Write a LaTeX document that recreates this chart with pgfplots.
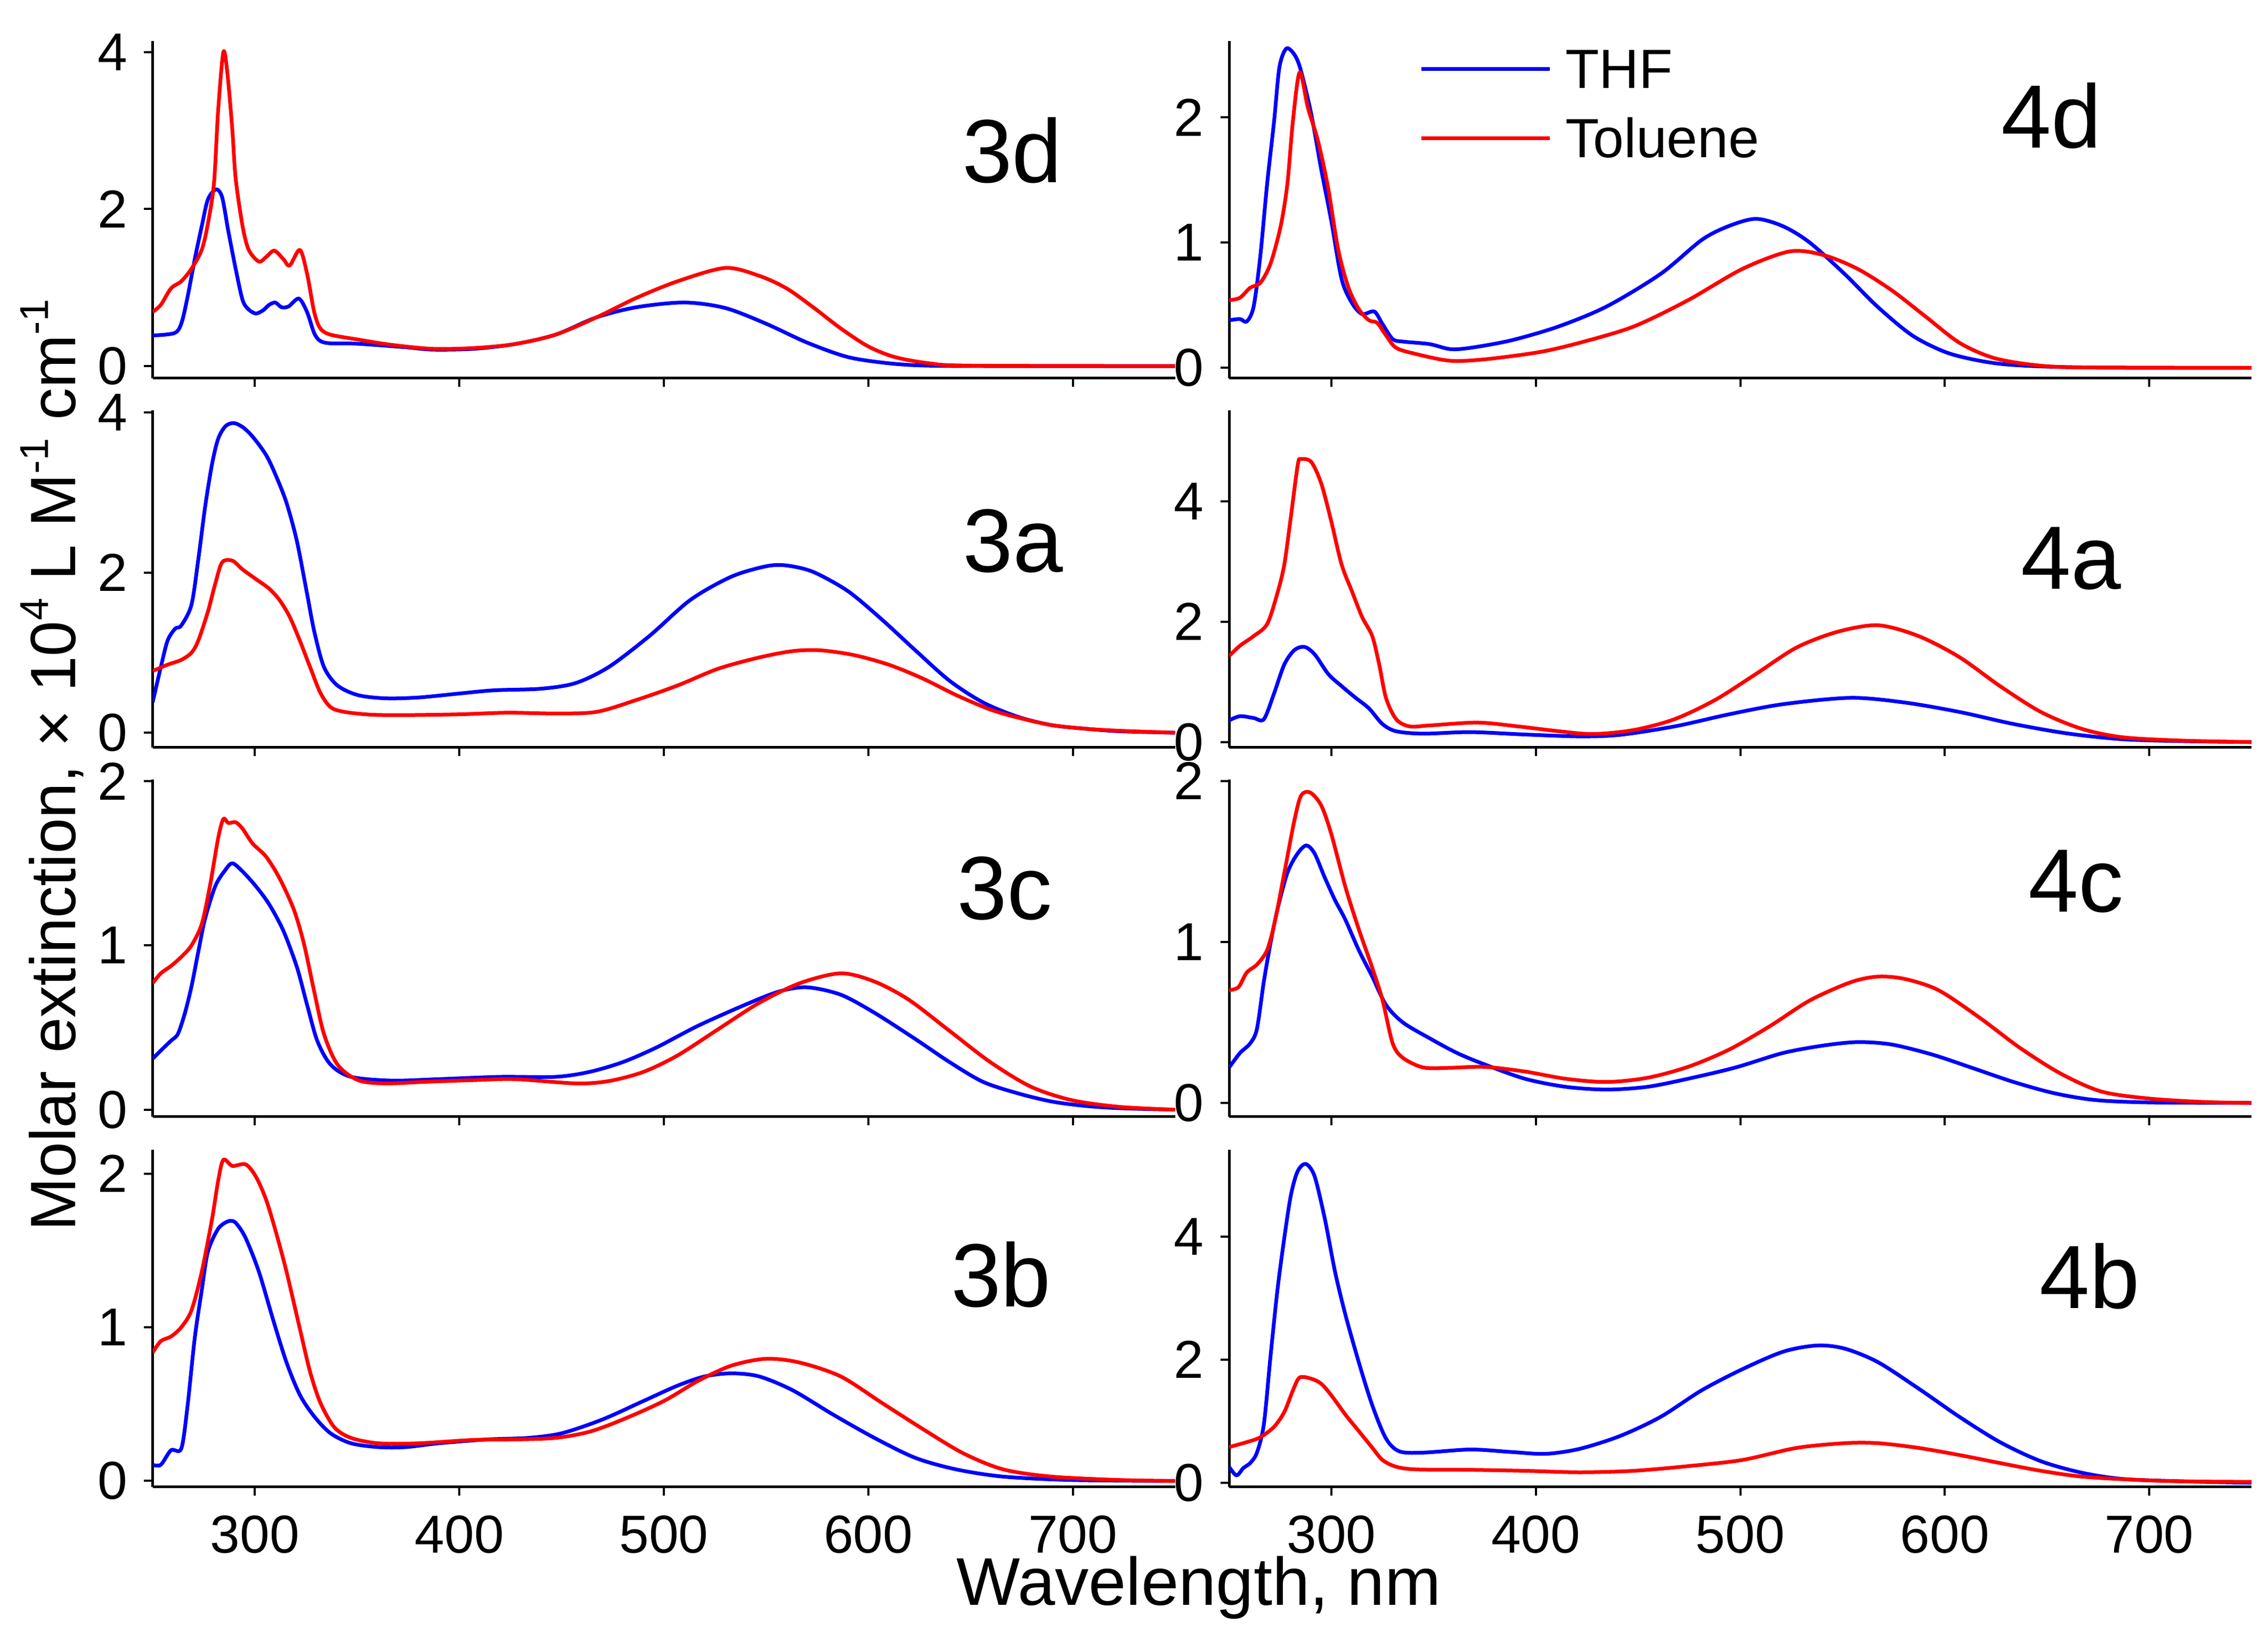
\documentclass[border=0pt]{standalone}
\usepackage{fontspec}
\setmainfont{Liberation Sans}
\usepackage{pgfplots}
\pgfplotsset{compat=1.18}
\newcommand{\sups}[1]{\raisebox{14.7pt}{\fontsize{21.5}{21.5}\selectfont #1}}
\pgfplotsset{
  panel/.style={
    scale only axis, width=191.9mm, height=63.3mm,
    xmin=250, xmax=750,
    axis x line*=bottom, axis y line*=left,
    axis line style={-, line width=0.5mm, black},
    xtick={300,400,500,600,700},
    tick align=outside, major tick length=1.6mm,
    tick style={line width=0.4mm, black},
    ticklabel style={font=\fontsize{28.5}{30}\selectfont},
    /pgf/number format/assume math mode=true,
    yticklabel style={inner sep=0pt, xshift=-3.1mm},
    xticklabel style={inner sep=0pt, yshift=-3.7mm},
  },
  nolab/.style={xticklabels={}},
  thf/.style={blue, line width=0.7mm, smooth, tension=0.5, line join=round},
  tol/.style={red, line width=0.7mm, smooth, tension=0.5, line join=round},
}
\begin{document}
\begin{tikzpicture}
\path[use as bounding box] (0,0) rectangle (425.7mm,306.3mm);
% ---------- 3d ----------
\begin{axis}[panel, nolab, at={(28.65mm,235.3mm)}, anchor=south west,
  ymin=-0.155, ymax=4.14, ytick={0,2,4}]
\addplot[thf] coordinates {(250,0.39)(260.6,0.42)(264,0.54)(267,0.87)(270.6,1.36)(274,1.78)(277,2.12)(281,2.25)(284,2.15)(287,1.72)(290.6,1.24)(294,0.84)(297,0.72)(300.5,0.67)(304,0.71)(307,0.78)(310,0.81)(313,0.75)(316.5,0.76)(321.5,0.86)(325.5,0.69)(329,0.42)(332,0.32)(337,0.29)(350,0.285)(373.7,0.24)(387,0.21)(407,0.22)(427,0.28)(447,0.40)(467,0.62)(486.7,0.75)(510,0.81)(530,0.74)(550,0.54)(570,0.30)(590,0.115)(610,0.036)(629.7,0.006)(673,0)(750,0)};
\addplot[tol] coordinates {(250,0.69)(254,0.78)(259,0.99)(264,1.08)(269,1.24)(274,1.48)(277,1.81)(280,2.33)(282,3.24)(284.6,4.0)(286.6,3.72)(289,3.0)(290.6,2.39)(294,1.78)(297,1.48)(302,1.33)(305.5,1.39)(309.5,1.47)(314,1.36)(317,1.28)(322,1.48)(325.5,1.18)(329,0.69)(332,0.48)(337,0.40)(350,0.34)(367,0.27)(387,0.22)(407,0.23)(427,0.28)(447,0.40)(467,0.62)(486.7,0.87)(506.7,1.08)(530,1.25)(546.6,1.15)(560,0.99)(573,0.75)(586.5,0.48)(600,0.25)(613,0.115)(629.7,0.036)(650,0.006)(750,0)};
\end{axis}
% ---------- 3a ----------
\begin{axis}[panel, nolab, at={(28.65mm,166.0mm)}, anchor=south west,
  ymin=-0.185, ymax=4.03, ytick={0,2,4}]
\addplot[thf] coordinates {(250,0.38)(254,0.82)(257.3,1.15)(261,1.30)(264,1.34)(269,1.60)(272.3,2.16)(275.6,2.81)(279,3.35)(282,3.67)(285.6,3.83)(289.6,3.87)(294,3.82)(298.9,3.70)(305.5,3.47)(310.5,3.20)(315.5,2.87)(320.5,2.40)(325.5,1.74)(329,1.27)(333.8,0.82)(340.4,0.59)(350.4,0.47)(363.7,0.43)(380,0.44)(400,0.49)(417,0.53)(440,0.55)(456.8,0.62)(473,0.82)(493,1.21)(513,1.66)(533,1.95)(550,2.08)(560,2.09)(573,2.01)(590,1.77)(606.4,1.42)(623,1.03)(639.7,0.65)(656,0.38)(673,0.20)(689.6,0.095)(706,0.05)(723,0.018)(750,0)};
\addplot[tol] coordinates {(250,0.77)(257.3,0.85)(264,0.91)(269,1.0)(272.3,1.15)(277,1.51)(280.6,1.86)(284,2.13)(289,2.15)(294,2.04)(300.5,1.92)(307,1.80)(312,1.66)(317,1.45)(322,1.15)(327,0.82)(332,0.50)(337,0.32)(343.8,0.26)(357,0.225)(373.7,0.22)(400,0.23)(423.6,0.25)(447,0.24)(467,0.26)(486.7,0.41)(506.7,0.59)(526.6,0.80)(546.6,0.94)(563,1.02)(576.5,1.03)(593,0.97)(610,0.85)(626.4,0.68)(643,0.47)(659.6,0.29)(673,0.19)(689.6,0.095)(706,0.05)(723,0.024)(750,0)};
\end{axis}
% ---------- 3c ----------
\begin{axis}[panel, nolab, at={(28.65mm,96.7mm)}, anchor=south west,
  ymin=-0.043, ymax=2.01, ytick={0,1,2}]
\addplot[thf] coordinates {(250,0.31)(254,0.36)(259,0.42)(262.3,0.46)(265.6,0.58)(269,0.75)(272.3,0.96)(275.6,1.16)(280.6,1.36)(285.6,1.46)(289,1.50)(294,1.45)(300.5,1.36)(307,1.25)(313.9,1.09)(320.5,0.87)(325.5,0.64)(330.5,0.42)(337,0.275)(347,0.20)(367,0.177)(390,0.186)(420,0.20)(447,0.20)(463.6,0.23)(480,0.29)(496.6,0.38)(516.6,0.51)(540,0.64)(556.5,0.72)(570,0.745)(586.5,0.70)(603,0.59)(623,0.43)(639.7,0.29)(656,0.17)(673,0.10)(689.6,0.05)(706,0.023)(723,0.009)(750,0)};
\addplot[tol] coordinates {(250,0.77)(254,0.83)(259,0.875)(264,0.93)(269,1.0)(274,1.13)(278,1.36)(282,1.65)(284.6,1.77)(287,1.745)(290.6,1.75)(294,1.71)(298.9,1.62)(305.5,1.54)(312,1.41)(319,1.22)(324,1.01)(329,0.72)(333.8,0.46)(340.4,0.275)(350.4,0.18)(363.7,0.16)(383.7,0.17)(407,0.18)(427,0.186)(457,0.16)(473,0.174)(490,0.23)(506.7,0.33)(526.6,0.49)(546.6,0.65)(566.5,0.77)(586.5,0.83)(603,0.78)(619.7,0.67)(639.7,0.48)(659.6,0.29)(679.5,0.14)(699.5,0.058)(723,0.017)(750,0)};
\end{axis}
% ---------- 3b ----------
\begin{axis}[panel, at={(28.65mm,27.2mm)}, anchor=south west,
  ymin=-0.04, ymax=2.155, ytick={0,1,2}]
\addplot[thf] coordinates {(250,0.105)(254,0.105)(259,0.2)(264,0.21)(267,0.48)(270.6,0.93)(274,1.24)(277,1.49)(282,1.64)(287,1.69)(290.6,1.68)(295.5,1.58)(302,1.36)(308.9,1.05)(315.5,0.77)(322,0.56)(329,0.42)(337,0.31)(347,0.245)(360.4,0.22)(373.7,0.22)(390,0.245)(413.6,0.27)(433.5,0.28)(450,0.31)(470,0.40)(490,0.52)(506.7,0.62)(520,0.68)(533,0.70)(546.6,0.68)(563,0.59)(583,0.43)(603,0.28)(623,0.15)(643,0.075)(666,0.028)(699.5,0.006)(750,0)};
\addplot[tol] coordinates {(250,0.835)(254,0.91)(259,0.94)(264,1.0)(269,1.11)(274,1.36)(279,1.70)(282,1.95)(284.6,2.09)(289,2.05)(295.5,2.06)(300.5,1.98)(305.5,1.83)(310.5,1.61)(315.5,1.36)(322,0.99)(327,0.71)(332,0.51)(338.8,0.35)(347,0.28)(360.4,0.245)(380,0.245)(407,0.267)(427,0.27)(447,0.28)(463.6,0.32)(480,0.40)(500,0.52)(516.6,0.65)(533,0.75)(550,0.795)(566.5,0.77)(586.5,0.68)(606.4,0.51)(626.4,0.34)(646.4,0.18)(666,0.075)(689.6,0.028)(723,0.006)(750,0)};
\end{axis}
% ---------- 4d ----------
\begin{axis}[panel, nolab, at={(230.7mm,235.3mm)}, anchor=south west,
  ymin=-0.083, ymax=2.61, ytick={0,1,2},
  legend cell align=left,
  legend image code/.code={\draw[#1] (0mm,0mm) -- (24.1mm,0mm);},
  legend style={draw=none, fill=none, inner sep=0pt, outer sep=0pt,
    at={(0.1863,0.9731)}, anchor=north west,
    nodes={inner sep=0pt, text height=7.2mm, text depth=0pt},
    row sep=5.8mm, column sep=2.6mm,
    font=\fontsize{29.5}{31}\selectfont}]
\addplot[thf] coordinates {(250,0.38)(255.3,0.39)(258.6,0.37)(262,0.49)(265.3,0.90)(268.6,1.47)(272,1.97)(274.6,2.40)(278,2.55)(282,2.50)(285,2.38)(290,2.04)(295,1.59)(300,1.17)(305,0.71)(310,0.52)(315,0.43)(321,0.45)(325,0.35)(330,0.23)(335,0.21)(348,0.19)(358,0.15)(368,0.16)(388,0.22)(411,0.33)(434.6,0.49)(461,0.75)(481,1.02)(494,1.13)(507.6,1.19)(521,1.13)(534,1.0)(551,0.75)(567,0.49)(584,0.26)(600.5,0.125)(617,0.057)(633.7,0.023)(667,0.004)(750,0)};
\addlegendentry{THF}
\addplot[tol] coordinates {(250,0.54)(255.3,0.56)(260.3,0.64)(265.3,0.68)(270.2,0.83)(275.2,1.13)(278.5,1.47)(281.2,1.97)(284.5,2.36)(288.5,2.08)(293.5,1.81)(298.5,1.43)(303.4,0.94)(308.4,0.64)(313.4,0.47)(318.4,0.38)(322.4,0.36)(326.7,0.26)(331.7,0.16)(341.6,0.11)(358,0.057)(374.8,0.068)(401.4,0.125)(421.3,0.20)(447.8,0.33)(474.4,0.54)(501,0.79)(524.2,0.93)(540.8,0.90)(557.4,0.79)(574,0.62)(590.6,0.41)(607.2,0.20)(623.8,0.08)(643.7,0.023)(667,0.004)(750,0)};
\addlegendentry{Toluene}
\end{axis}
% ---------- 4a ----------
\begin{axis}[panel, nolab, at={(230.7mm,166.0mm)}, anchor=south west,
  ymin=-0.09, ymax=5.51, ytick={0,2,4}]
\addplot[thf] coordinates {(250,0.36)(255.3,0.43)(262,0.40)(267,0.38)(272,0.81)(277,1.29)(282,1.53)(287,1.58)(292,1.45)(298.5,1.13)(305,0.93)(311.7,0.74)(318.4,0.56)(325,0.30)(331.7,0.18)(345,0.14)(368,0.166)(394.7,0.126)(421.3,0.095)(441,0.12)(467.8,0.26)(494.3,0.46)(521,0.63)(554,0.735)(580.6,0.656)(607.2,0.50)(633.7,0.30)(660.3,0.142)(687,0.047)(716.7,0.016)(750,0)};
\addplot[tol] coordinates {(250,1.43)(255.3,1.60)(262,1.76)(268.6,1.96)(273.6,2.47)(277,2.95)(280.2,3.74)(283.6,4.61)(285.2,4.70)(290.2,4.65)(295.1,4.29)(300,3.66)(305,2.95)(310,2.51)(315,2.08)(320,1.76)(323.4,1.29)(326.7,0.735)(331.7,0.38)(338.3,0.26)(348.3,0.277)(371.5,0.324)(391.4,0.26)(411.3,0.18)(428,0.134)(447.8,0.20)(467.8,0.38)(487.7,0.70)(507.6,1.13)(527.5,1.57)(547.4,1.83)(567.3,1.94)(587.2,1.76)(607.2,1.41)(627,0.93)(647,0.50)(667,0.22)(687,0.08)(716.7,0.024)(750,0)};
\end{axis}
% ---------- 4c ----------
\begin{axis}[panel, nolab, at={(230.7mm,96.7mm)}, anchor=south west,
  ymin=-0.086, ymax=2.01, ytick={0,1,2}]
\addplot[thf] coordinates {(250,0.22)(255.3,0.31)(260.3,0.37)(263.6,0.46)(267,0.755)(270.2,0.99)(273.6,1.20)(278.5,1.43)(283.5,1.55)(287.8,1.60)(291.8,1.55)(296.8,1.40)(301.8,1.26)(306.8,1.14)(313.4,0.95)(320,0.785)(326.7,0.61)(335,0.50)(348.3,0.40)(361.5,0.31)(374.8,0.24)(394.7,0.15)(414.6,0.10)(434.6,0.083)(454.5,0.10)(474.4,0.15)(497.6,0.22)(520.8,0.31)(540.8,0.357)(557.4,0.378)(574,0.363)(594,0.30)(614,0.215)(633.7,0.13)(653.6,0.06)(673.6,0.018)(700,0.003)(750,0)};
\addplot[tol] coordinates {(250,0.70)(254.6,0.72)(258.6,0.81)(263.6,0.86)(268.6,0.95)(272.6,1.14)(277,1.43)(282,1.76)(285.2,1.91)(289.5,1.93)(295,1.85)(300,1.67)(306.8,1.345)(313.4,1.08)(320,0.84)(325,0.64)(330,0.37)(335,0.28)(345,0.22)(358,0.218)(374.8,0.224)(394.7,0.195)(414.6,0.15)(434.6,0.13)(454.5,0.156)(474.4,0.224)(494.3,0.33)(514.2,0.475)(534,0.637)(554,0.75)(567.3,0.785)(580.6,0.77)(597,0.70)(617,0.53)(637,0.34)(657,0.18)(676.8,0.07)(700,0.027)(726.6,0.006)(750,0)};
\end{axis}
% ---------- 4b ----------
\begin{axis}[panel, at={(230.7mm,27.2mm)}, anchor=south west,
  ymin=-0.07, ymax=5.41, ytick={0,2,4}]
\addplot[thf] coordinates {(250,0.26)(253.6,0.12)(257,0.24)(260.3,0.32)(263.6,0.49)(267,0.95)(270.2,2.04)(273.6,3.12)(277,3.98)(280.2,4.67)(283.5,5.06)(287.5,5.18)(291.8,4.98)(296.8,4.29)(301.8,3.43)(306.8,2.74)(313.4,1.96)(320,1.26)(326.7,0.72)(333.3,0.51)(345,0.49)(368,0.54)(388,0.50)(404.7,0.47)(421.3,0.55)(441.2,0.76)(461,1.07)(481,1.50)(501,1.845)(521,2.13)(537.5,2.23)(551,2.18)(567.3,1.96)(587.2,1.53)(607.2,1.07)(627,0.66)(647,0.35)(667,0.163)(687,0.062)(716.7,0.023)(750,0)};
\addplot[tol] coordinates {(250,0.58)(258.6,0.66)(265.3,0.74)(272,0.91)(277,1.15)(281.2,1.50)(284.5,1.71)(290.2,1.69)(295,1.61)(300,1.42)(306.8,1.11)(313.4,0.84)(320,0.57)(325,0.37)(331.7,0.26)(341.6,0.217)(368,0.21)(394.7,0.194)(421.3,0.17)(447.8,0.194)(474.4,0.27)(501,0.37)(527.5,0.566)(551,0.643)(567.3,0.643)(587.2,0.566)(607.2,0.45)(627,0.32)(647,0.194)(667,0.10)(693.6,0.047)(716.7,0.023)(750,0.015)};
\end{axis}
% ---------- panel labels ----------
\begin{scope}[every node/.style={font=\fontsize{48}{50}\selectfont, anchor=base, inner sep=0pt}]
\node at (190.0mm,272.0mm) {3d};
\node at (190.15mm,198.9mm) {3a};
\node at (188.6mm,133.7mm) {3c};
\node at (187.9mm,61.0mm) {3b};
\node at (385.0mm,278.5mm) {4d};
\node at (388.7mm,195.7mm) {4a};
\node at (389.7mm,135.1mm) {4c};
\node at (392.2mm,60.7mm) {4b};
\end{scope}
% ---------- axis titles ----------
\node[anchor=base, inner sep=0pt, font=\fontsize{36}{38}\selectfont] at (225.0mm,5.0mm) {Wavelength, nm};
\node[anchor=base, rotate=90, inner sep=0pt, font=\fontsize{34.2}{36}\selectfont] at (14.2mm,162.7mm) {Molar extinction, × 10\sups{4} L M\sups{-1} cm\sups{-1}};
\end{tikzpicture}
\end{document}
